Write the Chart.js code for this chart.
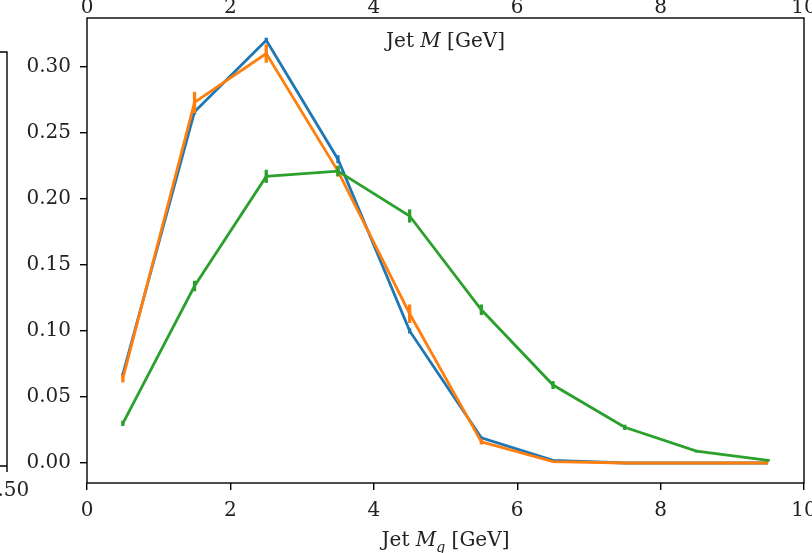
<!DOCTYPE html>
<html>
<head>
<meta charset="utf-8">
<script src="https://cdn.jsdelivr.net/npm/chart.js@4"></script>
<style>
html, body { margin: 0; padding: 0; background: #fff; }
canvas { display: block; }
</style>
</head>
<body>
<canvas id="massChart" width="812" height="553"></canvas>
<script>
// bin centres (GeV)
const binCenters = [0.5, 1.5, 2.5, 3.5, 4.5, 5.5, 6.5, 7.5, 8.5, 9.5];

// series values
const blueVals   = [0.067, 0.266, 0.320, 0.230, 0.100, 0.019, 0.002, 0.000, 0.000, 0.000];
const blueErr    = [0.001, 0.002, 0.002, 0.003, 0.002, 0.001, 0.000, 0.000, 0.000, 0.000];
const orangeVals = [0.064, 0.273, 0.310, 0.221, 0.113, 0.016, 0.001, 0.000, 0.000, 0.000];
const orangeErr  = [0.003, 0.008, 0.007, 0.004, 0.007, 0.002, 0.000, 0.000, 0.000, 0.000];
const greenVals  = [0.030, 0.134, 0.217, 0.221, 0.187, 0.116, 0.059, 0.027, 0.009, 0.002];
const greenErr   = [0.002, 0.004, 0.005, 0.004, 0.005, 0.004, 0.003, 0.002, 0.001, 0.001];

// tick labels
const xTicks = [0, 2, 4, 6, 8, 10];
const yTicks = [0.00, 0.05, 0.10, 0.15, 0.20, 0.25, 0.30];

const SERIF = "'DejaVu Serif', serif";
const FS = 20;
const LW = 2.8;

function toPoints(vals) {
    return binCenters.map((x, i) => ({ x: x, y: vals[i] }));
}

function makeDataset(vals, errs, color, order) {
    return {
        data: toPoints(vals),
        errors: errs,
        borderColor: color,
        backgroundColor: color,
        borderWidth: LW,
        pointRadius: 0,
        tension: 0,
        fill: false,
        order: order
    };
}

// dibuja las barras de error justo después de cada serie
const errorBars = {
    id: "errorBars",
    afterDatasetDraw(chart, args) {
        const ds = chart.data.datasets[args.index];
        const xs = chart.scales.x, ys = chart.scales.y;
        const ctx = chart.ctx;
        ctx.save();
        ctx.strokeStyle = ds.borderColor;
        ctx.lineWidth = 3.3;
        ctx.lineCap = "butt";
        ds.data.forEach((p, i) => {
            const e = ds.errors[i];
            if (!e) return;
            const px = xs.getPixelForValue(p.x);
            ctx.beginPath();
            ctx.moveTo(px, ys.getPixelForValue(p.y - e));
            ctx.lineTo(px, ys.getPixelForValue(p.y + e));
            ctx.stroke();
        });
        ctx.restore();
    }
};

// texto con partes en cursiva / subíndice
function drawRich(ctx, parts, cx, baseline, size) {
    let total = 0;
    parts.forEach(p => {
        ctx.font = (p.italic ? "italic " : "") + Math.round(size * (p.sub ? 0.7 : 1)) + "px " + SERIF;
        p.w = ctx.measureText(p.t).width;
        total += p.w;
    });
    let x = cx - total / 2;
    parts.forEach(p => {
        ctx.font = (p.italic ? "italic " : "") + Math.round(size * (p.sub ? 0.7 : 1)) + "px " + SERIF;
        ctx.fillText(p.t, x, baseline + (p.sub ? size * 0.3 : 0));
        x += p.w;
    });
}

const frameAndLabels = {
    id: "frameAndLabels",
    afterDraw(chart) {
        const ctx = chart.ctx;
        const a = chart.chartArea;
        ctx.save();
        ctx.strokeStyle = "#000";
        ctx.lineWidth = 1.4;
        ctx.strokeRect(a.left, a.top, a.right - a.left, a.bottom - a.top);

        // trozo del panel vecino a la izquierda
        ctx.beginPath();
        ctx.moveTo(0, 52);
        ctx.lineTo(7, 52);
        ctx.lineTo(7, 472);
        ctx.moveTo(0, 466);
        ctx.lineTo(7, 466);
        ctx.stroke();

        ctx.fillStyle = "#222";
        ctx.textAlign = "left";
        ctx.textBaseline = "alphabetic";
        const cx = (a.left + a.right) / 2;
        drawRich(ctx, [{ t: "Jet " }, { t: "M", italic: true }, { t: " [GeV]" }], cx, 47, FS);
        drawRich(ctx, [{ t: "Jet " }, { t: "M", italic: true }, { t: "g", italic: true, sub: true }, { t: " [GeV]" }], cx, 546, FS);

        ctx.font = FS + "px " + SERIF;
        ctx.textAlign = "center";
        ctx.fillText("0.50", 7, 496);
        ctx.restore();
    }
};

const tickFont = { family: SERIF, size: FS };

const ctx = document.getElementById("massChart").getContext("2d");
const chart = new Chart(ctx, {
    type: "line",
    data: {
        datasets: [
            makeDataset(blueVals, blueErr, "#1f77b4", 2),
            makeDataset(orangeVals, orangeErr, "#ff7f0e", 1),
            makeDataset(greenVals, greenErr, "#2ca02c", 0)
        ]
    },
    options: {
        responsive: false,
        animation: false,
        layout: { padding: { left: 0, right: 8, top: 0, bottom: 0 } },
        plugins: {
            legend: { display: false },
            tooltip: { enabled: false },
            title: { display: false }
        },
        scales: {
            x: {
                type: "linear",
                position: "bottom",
                min: 0,
                max: 10,
                afterBuildTicks: axis => { axis.ticks = xTicks.map(v => ({ value: v })); },
                afterFit: axis => { axis.height = 70; axis.paddingLeft = 0; axis.paddingRight = 0; },
                grid: { display: true, drawOnChartArea: false, drawTicks: true, tickLength: 7, color: "#000", lineWidth: 1.4 },
                border: { display: false },
                ticks: { font: tickFont, color: "#222", padding: 9, maxRotation: 0, autoSkip: false }
            },
            x2: {
                type: "linear",
                position: "top",
                min: 0,
                max: 10,
                afterBuildTicks: axis => { axis.ticks = xTicks.map(v => ({ value: v })); },
                afterFit: axis => { axis.height = 18; axis.paddingLeft = 0; axis.paddingRight = 0; },
                grid: { display: false, drawTicks: false },
                border: { display: false },
                ticks: { font: tickFont, color: "#222", padding: -2, maxRotation: 0, autoSkip: false }
            },
            y: {
                type: "linear",
                position: "left",
                min: -0.01515,
                max: 0.3369,
                afterBuildTicks: axis => { axis.ticks = yTicks.map(v => ({ value: v })); },
                afterFit: axis => { axis.width = 87; axis.paddingTop = 0; axis.paddingBottom = 0; },
                grid: { display: true, drawOnChartArea: false, drawTicks: true, tickLength: 7, color: "#000", lineWidth: 1.4 },
                border: { display: false },
                ticks: {
                    font: tickFont,
                    color: "#222",
                    padding: 9,
                    callback: v => v.toFixed(2)
                }
            }
        }
    },
    plugins: [errorBars, frameAndLabels]
});
</script>
</body>
</html>
